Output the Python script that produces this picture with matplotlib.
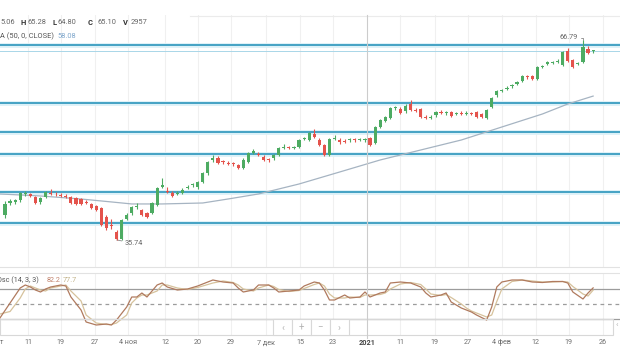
import matplotlib.pyplot as plt
import matplotlib.transforms as mtransforms
from matplotlib.patches import Rectangle
from matplotlib.lines import Line2D
import numpy as np

plt.rcParams['font.family'] = ['Roboto', 'DejaVu Sans']

opens = [39.6, 41.5, 41.7, 41.9, 42.9, 42.8, 42.4, 41.6, 42.4, 43.1, 42.9, 42.7, 42.5, 42.4, 42.2, 42.1, 41.6, 41.3, 41.0, 40.7,
         39.3, 38.1, 37.0, 35.9, 39.0, 39.9, 40.8, 40.4, 39.9, 39.9, 41.2, 44.0, 43.4, 43.0, 42.9, 43.0, 43.8, 44.2, 43.9, 44.8,
         46.1, 48.2, 48.4, 47.9, 47.7, 47.7, 47.4, 46.9, 47.9, 49.3, 49.1, 48.6, 48.2, 48.4, 48.9, 50.0, 50.1, 50.0, 50.2, 51.4,
         51.3, 52.2, 51.3, 50.5, 48.9, 51.4, 51.3, 51.1, 51.2, 51.3, 51.3, 51.3, 51.5, 50.8, 53.3, 54.2, 54.7, 56.2, 56.1, 55.7,
         56.9, 55.9, 56.0, 54.8, 54.7, 55.1, 55.6, 55.4, 55.6, 55.3, 55.4, 55.3, 55.4, 55.6, 55.3, 54.7, 56.4, 58.2, 58.9, 59.2,
         59.6, 60.0, 60.4, 61.1, 61.2, 60.8, 62.6, 63.1, 63.2, 63.4, 62.9, 65.1, 63.7, 63.1, 63.4, 65.4, 65.06]
highs = [41.8, 42.1, 42.1, 43.2, 43.3, 43.1, 42.6, 42.4, 43.4, 43.6, 43.2, 43.0, 42.8, 42.6, 42.4, 42.3, 41.9, 41.5, 41.2, 40.9,
         39.6, 39.0, 37.3, 39.0, 39.9, 41.0, 41.5, 40.6, 40.1, 41.7, 44.0, 45.4, 44.0, 43.3, 43.4, 43.8, 44.2, 44.6, 44.9, 46.3,
         48.0, 48.9, 48.7, 48.2, 48.0, 47.9, 47.6, 48.4, 49.4, 49.8, 49.4, 48.9, 48.5, 49.1, 50.2, 50.6, 50.4, 50.4, 51.4, 51.8,
         52.5, 53.0, 51.5, 50.7, 51.6, 52.0, 51.5, 51.4, 51.5, 51.6, 51.6, 51.6, 51.7, 53.5, 54.5, 55.0, 56.4, 56.6, 56.4, 56.8,
         57.4, 56.2, 56.2, 55.1, 55.1, 55.8, 55.9, 55.8, 55.8, 55.6, 55.7, 55.7, 55.6, 55.8, 55.5, 56.1, 58.0, 59.1, 59.2, 59.6,
         60.0, 60.4, 61.4, 61.4, 61.4, 62.8, 62.9, 63.5, 63.5, 63.8, 65.1, 65.6, 63.9, 63.4, 66.79, 65.8, 65.28]
lows = [39.2, 41.2, 41.4, 41.7, 42.6, 42.4, 41.3, 41.4, 42.2, 42.7, 42.6, 42.4, 42.2, 41.3, 41.2, 41.1, 41.3, 40.5, 40.2, 37.9,
        37.3, 37.4, 35.74, 35.8, 38.8, 39.6, 40.5, 39.4, 39.1, 39.7, 41.0, 43.8, 43.0, 42.4, 42.7, 42.8, 43.6, 43.9, 43.7, 44.6,
        45.9, 47.9, 47.5, 47.6, 47.4, 47.3, 46.7, 46.7, 47.7, 49.1, 48.7, 48.0, 47.9, 48.2, 48.7, 49.8, 49.8, 49.8, 50.0, 51.2,
        51.1, 51.6, 50.3, 48.7, 48.7, 51.2, 50.7, 50.8, 51.0, 51.0, 51.1, 51.0, 50.3, 50.6, 53.1, 54.0, 54.5, 55.9, 55.3, 55.5,
        55.7, 55.6, 54.6, 54.5, 54.5, 54.9, 55.3, 55.2, 54.8, 55.1, 55.1, 55.1, 55.1, 54.6, 54.6, 54.5, 56.2, 58.0, 58.7, 59.0,
        59.4, 59.8, 60.2, 60.8, 60.6, 60.6, 62.4, 62.9, 63.0, 63.2, 62.7, 63.4, 62.4, 62.9, 63.2, 64.6, 64.80]
closes = [41.4, 41.8, 41.9, 43.0, 43.0, 42.6, 41.5, 42.2, 43.2, 42.9, 42.8, 42.6, 42.4, 41.5, 41.4, 41.3, 41.5, 40.7, 40.4, 38.1,
          37.6, 37.9, 35.9, 38.8, 39.6, 40.8, 40.9, 39.6, 39.3, 41.5, 43.8, 44.3, 43.2, 42.6, 43.1, 43.5, 44.0, 44.4, 44.7, 46.1,
          47.8, 48.4, 47.7, 47.8, 47.6, 47.5, 46.9, 48.2, 49.2, 49.5, 48.9, 48.2, 48.1, 48.9, 50.0, 50.1, 50.0, 50.1, 51.2, 51.6,
          52.3, 51.8, 50.5, 48.9, 51.4, 51.5, 50.9, 51.0, 51.3, 51.2, 51.4, 51.3, 50.5, 53.3, 54.3, 54.8, 56.2, 56.3, 55.5, 56.6,
          55.9, 55.8, 54.8, 54.7, 54.9, 55.6, 55.5, 55.5, 55.0, 55.4, 55.3, 55.5, 55.3, 54.8, 54.8, 55.9, 57.8, 58.9, 59.0, 59.4,
          59.8, 60.2, 61.2, 61.0, 60.8, 62.6, 62.7, 63.3, 63.3, 63.6, 64.9, 63.6, 62.6, 63.2, 65.7, 64.8, 65.10]

ma_idx = [-1, 7, 15, 21, 25, 31, 39, 44, 50, 58, 66, 74, 82, 90, 98, 106, 111, 116]
ma_val = [42.88, 42.57, 42.10, 41.64, 41.33, 41.33, 41.48, 42.10, 42.88, 44.43, 46.29, 48.16, 49.71, 51.26, 53.28, 55.30,
          56.85, 58.08]

levels = [66.01, 56.93, 52.46, 49.01, 43.19, 38.37]
last_price = 65.10

osc_idx = [-1, 1, 3, 4, 5, 6, 7, 8, 9, 11, 12, 13, 15, 16, 18, 20, 21, 22, 24, 25, 26, 27, 28, 30, 31, 32, 34, 36, 38, 41,
           43, 45, 46, 47, 49, 50, 52, 53, 54, 56, 58, 59, 61, 62, 63, 64, 65, 67, 68, 70, 71, 72, 74, 75, 76, 78, 80, 82, 83,
           84, 86, 87, 88, 90, 91, 92, 93, 95, 96, 97, 98, 100, 102, 104, 106, 108, 110, 111, 112, 114, 115, 116]
osc_k = [22, 52, 82, 88, 84, 78, 74, 80, 84, 88, 86, 64, 38, 14, 8, 10, 8, 18, 44, 64, 64, 72, 64, 88, 92, 84, 78, 80, 86, 98,
         94, 92, 82, 74, 78, 88, 88, 82, 74, 76, 78, 86, 94, 92, 78, 58, 58, 68, 62, 64, 74, 64, 72, 74, 92, 94, 92, 84, 72,
         64, 68, 72, 54, 42, 38, 34, 28, 18, 44, 84, 94, 98, 98, 94, 93, 95, 95, 92, 74, 60, 72, 82.2]
osc_d = [30, 35, 62, 80, 86, 82, 78, 76, 82, 86, 88, 76, 56, 28, 12, 9, 9, 12, 28, 52, 62, 68, 68, 76, 88, 88, 82, 79, 83, 92,
         96, 93, 88, 80, 76, 82, 88, 85, 79, 75, 77, 81, 89, 92, 86, 70, 62, 62, 64, 63, 68, 68, 69, 72, 80, 90, 93, 89, 80,
         70, 67, 69, 63, 50, 42, 36, 32, 24, 28, 55, 80, 95, 98, 96, 94, 94, 95, 94, 85, 70, 66, 77.7]

tick_pos = [-2.0, 4.6, 11.0, 17.8, 24.3, 31.6, 38.1, 44.6, 51.5, 58.2, 64.7, 71.4, 77.9, 84.8, 91.3, 98.0, 104.7, 111.2, 118.0]
tick_lbl = ['3 окт', '11', '19', '27', '4 ноя', '12', '20', '29', '7 дек', '15', '23', '2021', '11', '19', '27', '4 фев',
            '12', '19', '26']
year_pos = 71.4

W, H = 620, 364
X0, BAR = 5.0, 5.07


def fx(x):
    return x / W


def fy(y):
    return 1 - y / H


GREEN = '#4dab62'
RED = '#e4534c'
LEVEL = '#3f9fc2'
GRID = '#f0f0f0'

fig = plt.figure(figsize=(6.2, 3.64), dpi=100)
ax = fig.add_axes([0, fy(267), 1, (267 - 15) / H])
ax2 = fig.add_axes([0, fy(335), 1, (335 - 273) / H])
for a in (ax, ax2):
    a.set_xlim(-X0 / BAR, (W - X0) / BAR)
    a.set_axis_off()
ax.set_ylim(31.54, 70.67)
ax2.set_ylim(-12, 112)

# grid
for p in tick_pos:
    if p != year_pos:
        ax.axvline(p, color=GRID, lw=0.8, zorder=0)
        ax2.axvline(p, color=GRID, lw=0.8, zorder=0)

# levels
for lv in levels:
    ax.axhline(lv, color='#dcf1f8', lw=3.4, zorder=1)
    ax.axhline(lv, color=LEVEL, lw=1.35, zorder=2)
ax.axhline(last_price, color='#a9d6e8', lw=0.7, zorder=2)

# moving average
ax.plot(ma_idx, ma_val, color='#a6b4c2', lw=0.9, zorder=3)

# candles
o = np.array(opens)
c = np.array(closes)
idx = np.arange(len(o))
cols = np.where(c >= o, GREEN, RED)
ax.vlines(idx, lows, highs, colors=cols, lw=0.8, zorder=4)
ax.bar(idx, np.maximum(np.abs(c - o), 0.15), bottom=np.minimum(o, c), width=0.62, color=cols, lw=0, zorder=5)

ax.annotate('35.74', xy=(22, 35.74), xytext=(23.6, 35.25), fontsize=5.2, color='#666666', va='center',
            arrowprops=dict(arrowstyle='-', color='#888888', lw=0.6, shrinkA=0, shrinkB=0))
ax.annotate('66.79', xy=(114, 66.79), xytext=(113.0, 67.1), fontsize=5.2, color='#666666', va='center', ha='right',
            arrowprops=dict(arrowstyle='-', color='#888888', lw=0.6, shrinkA=0, shrinkB=0,
                            connectionstyle='angle,angleA=0,angleB=90'))

# oscillator
for lv, ls in ((80, '-'), (20, '-'), (50, (0, (3, 3)))):
    ax2.axhline(lv, color='#9c9c9c', lw=0.9, ls=ls, zorder=1)
ax2.plot(osc_idx, osc_d, color='#d6c29c', lw=0.9, zorder=3)
ax2.plot(osc_idx, osc_k, color='#b07a5e', lw=0.9, zorder=4)

# panel borders
fig.add_artist(Line2D([fx(190), 1], [fy(16), fy(16)], color='#ebebeb', lw=0.8))
for y in (267, 273):
    fig.add_artist(Line2D([0, 1], [fy(y), fy(y)], color='#e2e2e2', lw=0.8))
year_x = fx(X0 + year_pos * BAR)
fig.add_artist(Line2D([year_x, year_x], [fy(15), fy(338)], color='#cccccc', lw=0.8))

# navigator
fig.add_artist(Rectangle((0, fy(335)), fx(613), (335 - 319) / H, transform=fig.transFigure,
                         facecolor='none', edgecolor='#d8d8d8', lw=0.8))
for i, g in enumerate(['‹', '+', '−', '›']):
    x0 = 273 + i * 19
    fig.add_artist(Rectangle((fx(x0), fy(335)), 19 / W, 16 / H, transform=fig.transFigure,
                             facecolor='white', edgecolor='#d8d8d8', lw=0.8))
    fig.text(fx(x0 + 9.5), fy(327.5), g, fontsize=7, color='#b5b5b5', ha='center', va='center')
fig.text(fx(617), fy(325), '‹', fontsize=6, color='#b5b5b5', ha='center', va='center')

# date labels
trans = mtransforms.blended_transform_factory(ax2.transData, fig.transFigure)
for p, t in zip(tick_pos, tick_lbl):
    bold = t == '2021'
    ax2.text(p, fy(343), t, transform=trans, ha='center', va='center', fontsize=5.2,
             color='#444444' if bold else '#707070', fontweight='bold' if bold else 'normal', clip_on=False)

# headers
row1 = [(0.5, '5.06', 'normal', '#666666'), (20.5, 'H', 'bold', '#333333'), (27, '65.28', 'normal', '#666666'),
        (52, 'L', 'bold', '#333333'), (57.5, '64.80', 'normal', '#666666'), (88, 'C', 'bold', '#333333'),
        (97, '65.10', 'normal', '#666666'), (123, 'V', 'bold', '#333333'), (131, '2957', 'normal', '#666666')]
for x, t, w, col in row1:
    fig.text(fx(x), fy(22.7), t, fontsize=5.4, fontweight=w, color=col, va='center')
fig.text(fx(0), fy(36.5), 'A (50, 0, CLOSE)', fontsize=5.4, color='#555555', va='center')
fig.text(fx(57), fy(36.5), '58.08', fontsize=5.4, color='#7fa7cc', va='center')
fig.text(fx(-3), fy(280.7), 'Osc (14, 3, 3)', fontsize=5.2, color='#555555', va='center')
fig.text(fx(47), fy(280.7), '82.2', fontsize=5.2, color='#c0806a', va='center')
fig.text(fx(63), fy(280.7), '77.7', fontsize=5.2, color='#c2b38a', va='center')

plt.savefig('out.png', dpi=100)
